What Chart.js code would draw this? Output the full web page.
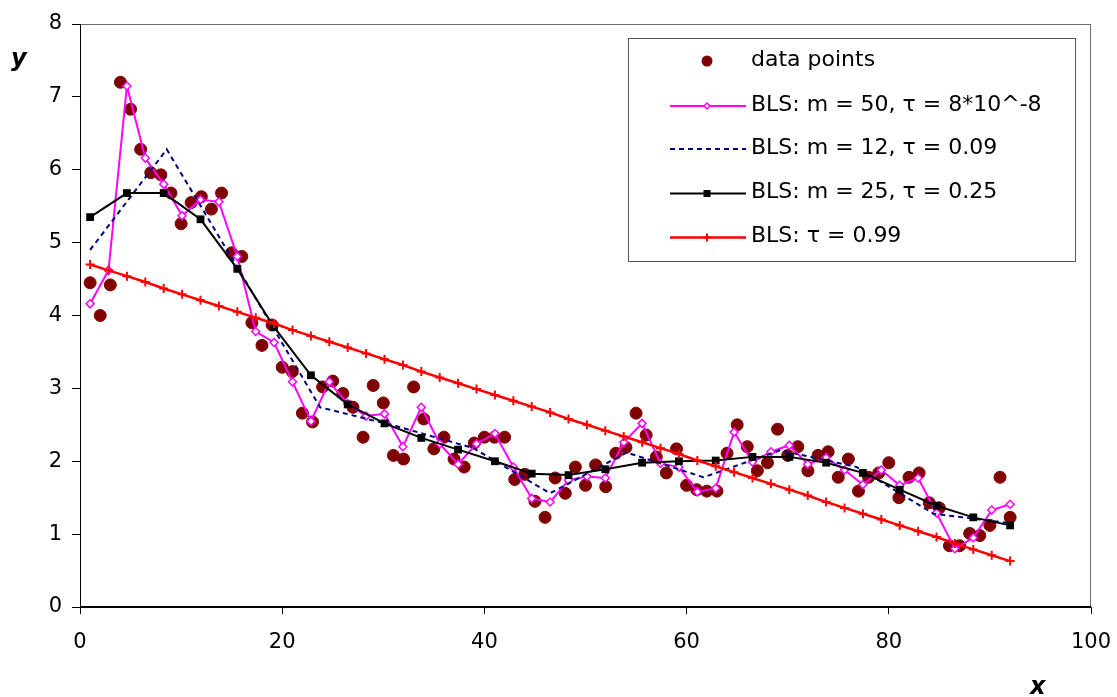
<!DOCTYPE html>
<html>
<head>
<meta charset="utf-8">
<title>BLS fits</title>
<script src="https://cdn.jsdelivr.net/npm/chart.js"></script>
<style>
  body { margin: 0; background: #fff; }
  canvas { display: block; }
</style>
</head>
<body>
<canvas id="blsChart" width="1117" height="697"></canvas>
<script>
// measured data points (x = 1..92)
const pointX = [
  1, 2, 3, 4, 5, 6, 7, 8, 9, 10, 11, 12, 13, 14, 15, 16, 17, 18, 19, 20,
  21, 22, 23, 24, 25, 26, 27, 28, 29, 30, 31, 32, 33, 34, 35, 36, 37, 38, 39, 40,
  41, 42, 43, 44, 45, 46, 47, 48, 49, 50, 51, 52, 53, 54, 55, 56, 57, 58, 59, 60,
  61, 62, 63, 64, 65, 66, 67, 68, 69, 70, 71, 72, 73, 74, 75, 76, 77, 78, 79, 80,
  81, 82, 83, 84, 85, 86, 87, 88, 89, 90, 91, 92,
];
const pointY = [
  4.45, 4.00, 4.42, 7.20, 6.83, 6.28, 5.96, 5.93, 5.68, 5.26,
  5.55, 5.63, 5.46, 5.68, 4.86, 4.81, 3.90, 3.59, 3.87, 3.29,
  3.23, 2.66, 2.54, 3.02, 3.10, 2.93, 2.74, 2.33, 3.04, 2.80,
  2.08, 2.03, 3.02, 2.58, 2.17, 2.33, 2.03, 1.92, 2.25, 2.33,
  2.33, 2.33, 1.75, 1.82, 1.45, 1.23, 1.77, 1.56, 1.92, 1.67,
  1.95, 1.65, 2.11, 2.19, 2.66, 2.36, 2.06, 1.84, 2.17, 1.67,
  1.61, 1.59, 1.59, 2.11, 2.50, 2.20, 1.87, 1.98, 2.44, 2.08,
  2.20, 1.87, 2.08, 2.13, 1.78, 2.03, 1.59, 1.78, 1.84, 1.98,
  1.50, 1.78, 1.84, 1.43, 1.36, 0.84, 0.84, 1.01, 0.98, 1.12,
  1.78, 1.23,
];

// fit curves: knot positions and values
const m50X = [
  1, 2.82, 4.64, 6.46, 8.28, 10.1, 11.92, 13.74, 15.56, 17.38,
  19.2, 21.02, 22.84, 24.66, 26.48, 28.3, 30.12, 31.94, 33.76, 35.58,
  37.4, 39.22, 41.04, 42.86, 44.68, 46.5, 48.32, 50.14, 51.96, 53.78,
  55.6, 57.42, 59.24, 61.06, 62.88, 64.7, 66.52, 68.34, 70.16, 71.98,
  73.8, 75.62, 77.44, 79.26, 81.08, 82.9, 84.72, 86.54, 88.36, 90.18,
  92,
];
const m50Y = [
  4.16, 4.62, 7.15, 6.16, 5.80, 5.37, 5.59, 5.56, 4.81, 3.78,
  3.63, 3.09, 2.55, 3.09, 2.79, 2.62, 2.65, 2.20, 2.74, 2.24,
  1.96, 2.24, 2.38, 1.92, 1.49, 1.44, 1.74, 1.79, 1.77, 2.26,
  2.52, 1.97, 1.92, 1.58, 1.63, 2.40, 1.99, 2.13, 2.22, 1.96,
  2.05, 1.88, 1.68, 1.88, 1.67, 1.77, 1.29, 0.80, 0.95, 1.33,
  1.41,
];
const m12X = [1, 8.58, 16.17, 23.75, 31.33, 38.92, 46.5, 54.08, 61.67, 69.25, 76.83, 84.42, 92];
const m12Y = [4.90, 6.28, 4.52, 2.74, 2.48, 2.18, 1.56, 2.12, 1.78, 2.15, 1.92, 1.28, 1.15];
const m25X = [
  1, 4.64, 8.28, 11.92, 15.56, 19.2, 22.84, 26.48, 30.12, 33.76, 37.4, 41.04, 44.68,
  48.32, 51.96, 55.6, 59.24, 62.88, 66.52, 70.16, 73.8, 77.44, 81.08, 84.72, 88.36, 92,
];
const m25Y = [
  5.35, 5.68, 5.68, 5.32, 4.64, 3.84, 3.18, 2.78, 2.52, 2.32, 2.16, 2.00, 1.83,
  1.81, 1.89, 1.98, 2.00, 2.01, 2.06, 2.06, 1.98, 1.84, 1.61, 1.39, 1.23, 1.12,
];
const t99Y = [
  4.70, 4.62, 4.54, 4.46, 4.37, 4.29, 4.21, 4.13, 4.05, 3.97,
  3.89, 3.80, 3.72, 3.64, 3.56, 3.48, 3.40, 3.32, 3.23, 3.15,
  3.07, 2.99, 2.91, 2.83, 2.75, 2.67, 2.58, 2.50, 2.42, 2.34,
  2.26, 2.18, 2.10, 2.01, 1.93, 1.85, 1.77, 1.69, 1.61, 1.53,
  1.44, 1.36, 1.28, 1.20, 1.12, 1.04, 0.96, 0.87, 0.79, 0.71,
  0.63,
];

const xTicks = [0, 20, 40, 60, 80, 100];
const yTicks = [0, 1, 2, 3, 4, 5, 6, 7, 8];

const FONT = "'DejaVu Sans', 'Liberation Sans', Arial, sans-serif";

function pairs(xs, ys) {
  return xs.map((x, i) => ({ x: x, y: ys[i] }));
}

// marker shapes used by the legend box
function drawMarker(ctx, style, x, y, r, stroke, fill) {
  ctx.save();
  ctx.strokeStyle = stroke;
  ctx.fillStyle = fill;
  ctx.lineWidth = 1.5;
  ctx.beginPath();
  if (style === "circle") {
    ctx.arc(x, y, r, 0, Math.PI * 2);
    ctx.fill();
  } else if (style === "rectRot") {
    ctx.moveTo(x, y - r);
    ctx.lineTo(x + r, y);
    ctx.lineTo(x, y + r);
    ctx.lineTo(x - r, y);
    ctx.closePath();
    ctx.fill();
    ctx.stroke();
  } else if (style === "rect") {
    ctx.rect(x - r, y - r, 2 * r, 2 * r);
    ctx.fill();
  } else if (style === "cross") {
    ctx.moveTo(x - r, y);
    ctx.lineTo(x + r, y);
    ctx.moveTo(x, y - r);
    ctx.lineTo(x, y + r);
    ctx.lineWidth = 2;
    ctx.stroke();
  }
  ctx.restore();
}

const legendBox = {
  id: "legendBox",
  afterDraw(chart) {
    const ctx = chart.ctx;
    const left = 628.5, top = 38.5, w = 447, h = 223;
    ctx.save();
    ctx.fillStyle = "#fff";
    ctx.fillRect(left, top, w, h);
    ctx.strokeStyle = "#555";
    ctx.lineWidth = 1;
    ctx.strokeRect(left, top, w, h);

    const rowsY = [61, 106, 149, 193.5, 237.5];
    chart.data.datasets.forEach((ds, i) => {
      const y = rowsY[i];
      if (ds.showLine) {
        ctx.beginPath();
        ctx.setLineDash(ds.borderDash || []);
        ctx.strokeStyle = ds.borderColor;
        ctx.lineWidth = ds.borderWidth;
        ctx.moveTo(670, y);
        ctx.lineTo(746, y);
        ctx.stroke();
        ctx.setLineDash([]);
      }
      if (ds.legendMarker) {
        const m = ds.legendMarker;
        drawMarker(ctx, m.style, 707, y, m.r, m.stroke, m.fill);
      }
      ctx.fillStyle = "#000";
      ctx.font = "22px " + FONT;
      ctx.textBaseline = "middle";
      ctx.fillText(ds.label, 751, y - 1);
    });
    ctx.restore();
  },
};

// plot area box, axis lines and axis titles
const frame = {
  id: "frame",
  afterDraw(chart) {
    const a = chart.chartArea;
    const ctx = chart.ctx;
    const l = Math.round(a.left), t = Math.round(a.top);
    const r = Math.round(a.right), b = Math.round(a.bottom);
    ctx.save();
    ctx.strokeStyle = "#6e6e6e";
    ctx.lineWidth = 1;
    ctx.strokeRect(l + 0.5, t + 0.5, r - l - 1, b - t);

    ctx.strokeStyle = "#000";
    ctx.beginPath();
    ctx.moveTo(l + 0.5, t);
    ctx.lineTo(l + 0.5, b);
    ctx.stroke();
    ctx.lineWidth = 2;
    ctx.beginPath();
    ctx.moveTo(l, b);
    ctx.lineTo(r, b);
    ctx.stroke();

    ctx.fillStyle = "#000";
    ctx.font = "italic bold 24px " + FONT;
    ctx.textBaseline = "alphabetic";
    ctx.fillText("y", 11, 66);
    ctx.fillText("x", 1030, 694);
    ctx.restore();
  },
};

const ctx = document.getElementById("blsChart");

new Chart(ctx, {
  type: "scatter",
  data: {
    datasets: [
      {
        label: "data points",
        data: pairs(pointX, pointY),
        showLine: false,
        pointStyle: "circle",
        pointRadius: 6,
        pointBorderWidth: 1,
        pointBackgroundColor: "#800000",
        pointBorderColor: "#800000",
        order: 5,
        legendMarker: { style: "circle", r: 5.5, stroke: "#800000", fill: "#800000" },
      },
      {
        label: "BLS: m = 50, \u03c4 = 8*10^-8",
        data: pairs(m50X, m50Y),
        showLine: true,
        borderColor: "#ff00ff",
        borderWidth: 2,
        pointStyle: "rectRot",
        pointRadius: 4,
        pointBorderWidth: 1.5,
        pointBorderColor: "#ff00ff",
        pointBackgroundColor: "#ffffff",
        order: 4,
        legendMarker: { style: "rectRot", r: 3, stroke: "#ff00ff", fill: "#fff" },
      },
      {
        label: "BLS: m = 12, \u03c4 = 0.09",
        data: pairs(m12X, m12Y),
        showLine: true,
        borderColor: "#000080",
        borderWidth: 2,
        borderDash: [5, 4],
        pointRadius: 0,
        order: 3,
      },
      {
        label: "BLS: m = 25, \u03c4 = 0.25",
        data: pairs(m25X, m25Y),
        showLine: true,
        borderColor: "#000000",
        borderWidth: 2,
        pointStyle: "rect",
        pointRadius: 5.5,
        pointBorderWidth: 0,
        pointBackgroundColor: "#000000",
        pointBorderColor: "#000000",
        order: 2,
        legendMarker: { style: "rect", r: 3.5, stroke: "#000", fill: "#000" },
      },
      {
        label: "BLS: \u03c4 = 0.99",
        data: pairs(m50X, t99Y),
        showLine: true,
        borderColor: "#ff0000",
        borderWidth: 2.5,
        pointStyle: "cross",
        pointRadius: 4.5,
        pointBorderWidth: 2,
        pointBorderColor: "#ff0000",
        order: 1,
        legendMarker: { style: "cross", r: 4, stroke: "#ff0000", fill: "#ff0000" },
      },
    ],
  },
  options: {
    responsive: false,
    animation: false,
    events: [],
    layout: { padding: { left: 0, right: 26, top: 24, bottom: 0 } },
    plugins: {
      legend: { display: false },
      tooltip: { enabled: false },
    },
    scales: {
      x: {
        type: "linear",
        min: 0,
        max: 100,
        afterBuildTicks: (scale) => {
          scale.ticks = xTicks.map((v) => ({ value: v }));
        },
        afterFit: (scale) => {
          scale.height = 90;
          scale.paddingLeft = 0;
          scale.paddingRight = 0;
        },
        ticks: { color: "#000", font: { family: FONT, size: 21 }, padding: 16, maxRotation: 0 },
        grid: { drawOnChartArea: false, drawTicks: true, tickLength: 7, color: "#000", lineWidth: 1 },
        border: { display: false },
      },
      y: {
        type: "linear",
        min: 0,
        max: 8,
        afterBuildTicks: (scale) => {
          scale.ticks = yTicks.map((v) => ({ value: v }));
        },
        afterFit: (scale) => {
          scale.width = 80;
        },
        ticks: { color: "#000", font: { family: FONT, size: 21 }, padding: 10 },
        grid: { drawOnChartArea: false, drawTicks: true, tickLength: 8, color: "#000", lineWidth: 1 },
        border: { display: false },
      },
    },
  },
  plugins: [frame, legendBox],
});
</script>
</body>
</html>
